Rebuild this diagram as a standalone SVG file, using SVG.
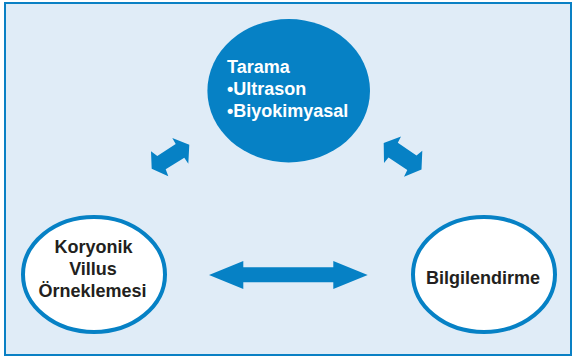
<svg xmlns="http://www.w3.org/2000/svg" width="572" height="356" viewBox="0 0 572 356">
<style>
.bg{fill:#E0ECF7;stroke:#0A80C4;stroke-width:2}
.blue{fill:#0681C5}
.ring{fill:#FFFFFF;stroke:#0681C5;stroke-width:4}
.t{font-family:"Liberation Sans",Arial,sans-serif;font-weight:bold;font-size:18px}
.w{fill:#FFFFFF}
.k{fill:#231F20}
</style>
<rect class="bg" x="5" y="3" width="566" height="352"/>
<g id="tarama">
<ellipse class="blue" cx="288.7" cy="90.7" rx="81.3" ry="71.7"/>
<text class="t w" x="227" y="72.5">Tarama</text>
<text class="t w" x="227" y="95">•Ultrason</text>
<text class="t w" x="227" y="117">•Biyokimyasal</text>
</g>
<g id="koryonik">
<ellipse class="ring" cx="94" cy="274.5" rx="71" ry="57.5"/>
<text class="t k" text-anchor="middle" x="93.5" y="252.5">Koryonik</text>
<text class="t k" text-anchor="middle" x="93" y="275">Villus</text>
<text class="t k" text-anchor="middle" x="92.5" y="297">Örneklemesi</text>
</g>
<g id="bilgilendirme">
<ellipse class="ring" cx="484" cy="274.5" rx="71" ry="57.5"/>
<text class="t k" text-anchor="middle" x="483" y="283.5">Bilgilendirme</text>
</g>
<g id="connectors">
<polygon class="blue" points="209,275 243.3,261 243.3,267.3 333.3,267.3 333.3,261 367.7,275 333.3,289 333.3,282.3 243.3,282.3 243.3,289"/>
<polygon class="blue" points="172.3,138 189.3,144.7 188.3,163.7 184.3,157.7 165.7,169.3 168.3,176.3 151.7,168.7 151,151.3 157.3,156 175.7,144"/>
<polygon class="blue" points="401,136.5 383.7,143 384,163 388.5,157.5 407.3,170 404,176.8 421.5,169.5 422.3,150.8 416.5,155.5 397.8,142.8"/>
</g>
</svg>
